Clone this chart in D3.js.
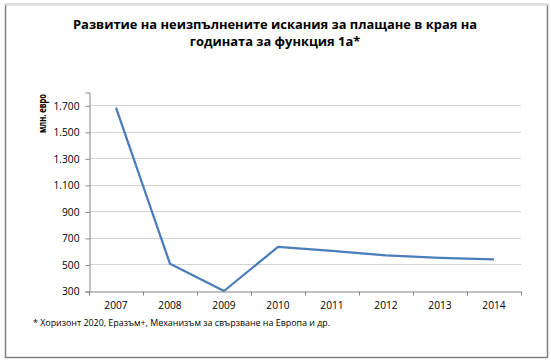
<!DOCTYPE html>
<html>
<head>
<meta charset="utf-8">
<script src="https://cdn.jsdelivr.net/npm/d3@7"></script>
<style>
  body { margin: 0; background: #fff; }
  text { font-family: "Open Sans", "Noto Sans", sans-serif; fill: #000; }
</style>
</head>
<body>
<div id="chart"></div>
<script>
// chart data
var years  = ['2007', '2008', '2009', '2010', '2011', '2012', '2013', '2014'],
    values = [1682, 505, 300, 632, 603, 568, 550, 538],
    yTicks = [300, 500, 700, 900, 1100, 1300, 1500, 1700];

var titleLines = ['Развитие на неизпълнените искания за плащане в края на',
                  'годината за функция 1а*'],
    yTitle     = 'млн. евро',
    footnote   = '* Хоризонт 2020, Еразъм+, Механизъм за свързване на Европа и др.';

var width  = 551,
    height = 362,
    plot   = {left: 89, right: 521, top: 92, bottom: 291};

var svg = d3.select('#chart')
	.append('svg')
	.attr('width', width)
	.attr('height', height);

// frame
svg.append('rect')
	.attr('x', 5.5).attr('y', 4.5)
	.attr('width', 542).attr('height', 353)
	.attr('fill', '#fff')
	.attr('stroke', '#7f7f7f')
	.attr('stroke-width', 1.5);
svg.append('line')
	.attr('x1', 5).attr('x2', 548)
	.attr('y1', 4.5).attr('y2', 4.5)
	.attr('stroke', '#e0e0e0')
	.attr('stroke-width', 2);

var x = d3.scaleBand()
	.domain(years)
	.range([plot.left, plot.right]);

var y = d3.scaleLinear()
	.domain([300, 1800])
	.range([plot.bottom, plot.top]);

// gridlines
svg.append('g')
	.selectAll('line')
	.data(yTicks.slice(1))
	.enter()
	.append('line')
	.attr('x1', plot.left).attr('x2', plot.right)
	.attr('y1', function(d){ return Math.round(y(d)) + 0.5; })
	.attr('y2', function(d){ return Math.round(y(d)) + 0.5; })
	.attr('stroke', '#d4d4d4')
	.attr('stroke-width', 1.2);

// y axis
var yAxis = svg.append('g')
	.attr('transform', 'translate(' + (plot.left + 0.5) + ',0.5)')
	.call(d3.axisLeft(y).tickValues(yTicks).tickSize(4).tickPadding(6)
		.tickFormat(function(d){ return d3.format(',')(d).replace(',', '.'); }));

// x axis
var xAxis = svg.append('g')
	.attr('transform', 'translate(0,' + (plot.bottom + 0.5) + ')')
	.call(d3.axisBottom(x).tickSize(0).tickPadding(10));

xAxis.selectAll('.tick-sep')
	.data(years.concat(['end']))
	.enter()
	.append('line')
	.attr('class', 'tick-sep')
	.attr('x1', function(d, i){ return Math.round(plot.left + i * x.bandwidth()) + 0.5; })
	.attr('x2', function(d, i){ return Math.round(plot.left + i * x.bandwidth()) + 0.5; })
	.attr('y1', 0).attr('y2', 4);

[yAxis, xAxis].forEach(function(ax){
	ax.select('.domain').attr('stroke', '#868686');
	ax.selectAll('line').attr('stroke', '#868686');
	ax.selectAll('text')
		.style('font-size', '10.2px')
		.style('font-family', '"Open Sans", sans-serif')
		.attr('fill', '#222');
});

// series line
var line = d3.line()
	.x(function(d, i){ return x(years[i]) + x.bandwidth() / 2; })
	.y(function(d){ return y(d); });

svg.append('path')
	.datum(values)
	.attr('d', line)
	.attr('fill', 'none')
	.attr('stroke', '#4a7ebb')
	.attr('stroke-width', 2.25)
	.attr('stroke-linejoin', 'round');

// title
svg.append('g')
	.selectAll('text')
	.data(titleLines)
	.enter()
	.append('text')
	.attr('x', 275)
	.attr('y', function(d, i){ return 29 + i * 17; })
	.attr('text-anchor', 'middle')
	.style('font-size', '12.9px')
	.style('font-weight', 'bold')
	.text(function(d){ return d; });

// y axis title
svg.append('text')
	.attr('transform', 'translate(46,94) rotate(-90)')
	.attr('text-anchor', 'end')
	.attr('textLength', 39)
	.attr('lengthAdjust', 'spacingAndGlyphs')
	.style('font-size', '10px')
	.style('font-weight', 'bold')
	.text(yTitle);

// footnote
svg.append('text')
	.attr('x', 33)
	.attr('y', 326)
	.style('font-size', '8.9px')
	.text(footnote);
</script>
</body>
</html>
